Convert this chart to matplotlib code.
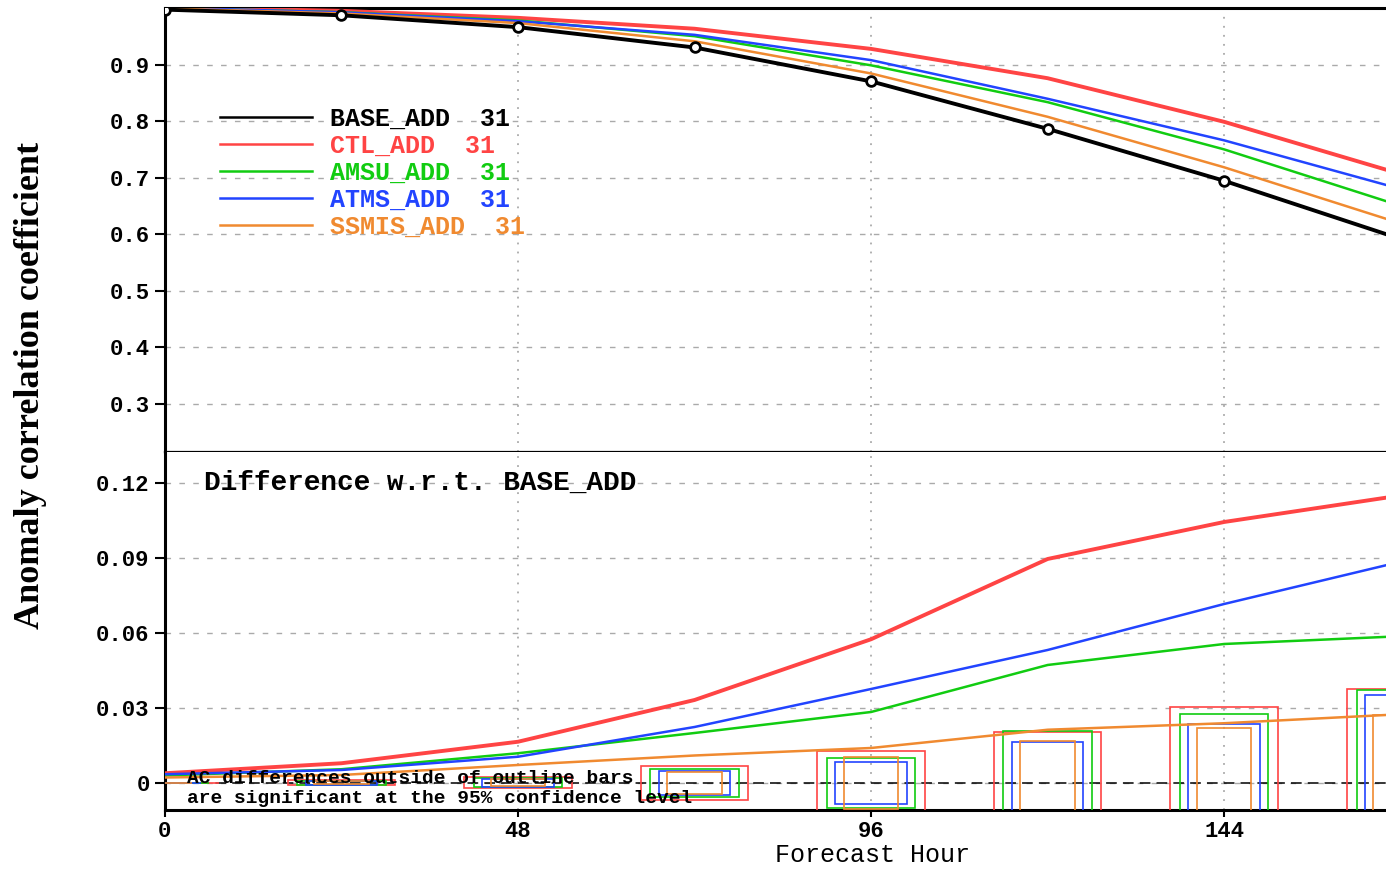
import matplotlib
matplotlib.use("Agg")
import matplotlib.pyplot as plt

# forecast hours and anomaly correlation of the base run
hours = [0, 24, 48, 72, 96, 120, 144, 168]
base_ac = [0.998, 0.988, 0.967, 0.931, 0.871, 0.787, 0.695, 0.592]

# AC differences of each experiment w.r.t. BASE_ADD
diff_ctl = [0.0039, 0.0079, 0.0165, 0.0332, 0.0575, 0.0896, 0.1044, 0.1150]
diff_amsu = [0.0030, 0.0055, 0.0119, 0.0200, 0.0284, 0.0472, 0.0556, 0.0587]
diff_atms = [0.0035, 0.0052, 0.0105, 0.0224, 0.0376, 0.0532, 0.0716, 0.0885]
diff_ssmis = [0.0022, 0.0032, 0.0072, 0.0110, 0.0140, 0.0213, 0.0239, 0.0275]

# half-height of the 95% significance bars
sig_ctl = [0.0, 0.0010, 0.0022, 0.0068, 0.0128, 0.0202, 0.0304, 0.0376]
sig_amsu = [0.0, 0.0008, 0.0018, 0.0056, 0.0101, 0.0206, 0.0277, 0.0370]
sig_atms = [0.0, 0.0007, 0.0016, 0.0049, 0.0083, 0.0165, 0.0236, 0.0350]
sig_ssmis = [0.0, 0.0006, 0.0014, 0.0045, 0.0105, 0.0166, 0.0218, 0.0270]

names = ["BASE_ADD", "CTL_ADD", "AMSU_ADD", "ATMS_ADD", "SSMIS_ADD"]
ncases = [31, 31, 31, 31, 31]

c_base = "black"
c_ctl = "#ff4444"
c_amsu = "#11cc11"
c_atms = "#2244ff"
c_ssmis = "#f08a30"

mono = "Liberation Mono"

fig = plt.figure(figsize=(13.86, 8.69), dpi=100)
ax1 = fig.add_axes([0.1190, 0.4799, 0.8810, 0.5109])
ax2 = fig.add_axes([0.1190, 0.0679, 0.8810, 0.4120], sharex=ax1)

xmax = 166.0

# ---- top panel: AC scores ----
exps = [(diff_ctl, c_ctl, 2.8), (diff_amsu, c_amsu, 1.8),
        (diff_atms, c_atms, 1.8), (diff_ssmis, c_ssmis, 1.8)]
ax1.plot(hours, base_ac, color=c_base, lw=2.8, marker="o", ms=7,
         mfc="white", mec="black", mew=2, label=f"{names[0]}  {ncases[0]}", zorder=5)
for (d, c, lw), nm, n in zip(exps, names[1:], ncases[1:]):
    ac = [b + v for b, v in zip(base_ac, d)]
    ax1.plot(hours, ac, color=c, lw=lw, label=f"{nm}  {n}", zorder=4)

ax1.set_xlim(0, xmax)
ax1.set_ylim(0.215, 1.0009)
ax1.set_yticks([0.3, 0.4, 0.5, 0.6, 0.7, 0.8, 0.9])
ax1.set_yticklabels(["0.3", "0.4", "0.5", "0.6", "0.7", "0.8", "0.9"])

leg = ax1.legend(loc="upper left", bbox_to_anchor=(0.045, 0.778), frameon=False,
                 prop={"family": mono, "weight": "bold", "size": 18},
                 handlelength=3.7, handletextpad=0.7, labelspacing=0.12,
                 borderpad=0, borderaxespad=0, labelcolor="linecolor")
for h in leg.get_lines():
    h.set_marker("")
    h.set_linewidth(1.8)

# ---- bottom panel: differences ----
for (d, c, lw) in exps:
    ax2.plot(hours, d, color=c, lw=lw, zorder=4)

bars = [(sig_ctl, c_ctl, 7.3), (sig_amsu, c_amsu, 6.0),
        (sig_atms, c_atms, 4.85), (sig_ssmis, c_ssmis, 3.7)]
for s, c, hw in bars:
    ax2.bar(hours, [2 * v for v in s], bottom=[-v for v in s], width=2 * hw,
            fill=False, edgecolor=c, lw=1.2, zorder=3)

ax2.axhline(0, color="black", lw=1.1, ls=(0, (7, 4)), zorder=2)
ax2.set_ylim(-0.0108, 0.1324)
ax2.set_yticks([0, 0.03, 0.06, 0.09, 0.12])
ax2.set_yticklabels(["0", "0.03", "0.06", "0.09", "0.12"])
ax2.set_xticks([0, 48, 96, 144])
ax2.set_xticklabels(["0", "48", "96", "144"])

ax2.text(0.032, 0.915, "Difference w.r.t. BASE_ADD", transform=ax2.transAxes,
         family=mono, weight="bold", fontsize=20, va="center", ha="left")
ax2.text(0.018, 0.089, "AC differences outside of outline bars", transform=ax2.transAxes,
         family=mono, weight="bold", fontsize=14, va="center", ha="left", zorder=6)
ax2.text(0.018, 0.033, "are significant at the 95% confidence level", transform=ax2.transAxes,
         family=mono, weight="bold", fontsize=14, va="center", ha="left", zorder=6)

for ax in (ax1, ax2):
    ax.grid(axis="y", color="#aaaaaa", lw=1, ls=(0, (4, 6)))
    ax.grid(axis="x", color="#aaaaaa", lw=1.3, ls=(0, (1, 4)))
    ax.spines["right"].set_visible(False)
    for sp in ("left", "top", "bottom"):
        ax.spines[sp].set_linewidth(2.2)
    ax.tick_params(axis="y", length=7, width=1.5, pad=4)
    ax.tick_params(axis="x", length=5, width=1.5, pad=3)
    for lab in ax.get_yticklabels() + ax.get_xticklabels():
        lab.set_family(mono)
        lab.set_weight("bold")
        lab.set_fontsize(16)
    ax.set_axisbelow(True)

ax1.spines["bottom"].set_linewidth(1.6)
ax2.spines["top"].set_visible(False)
ax1.tick_params(axis="x", labelbottom=False, length=0)

ax2.set_xlabel("Forecast Hour", family=mono, fontsize=18)
ax2.xaxis.set_label_coords((873 - 165) / (1386 * 0.8810), -0.093)

fig.text(0.022, 0.556, "Anomaly correlation coefficient", rotation=90,
         family="Liberation Serif", weight="bold", fontsize=26,
         ha="center", va="center")

fig.savefig("out.png", dpi=100)
